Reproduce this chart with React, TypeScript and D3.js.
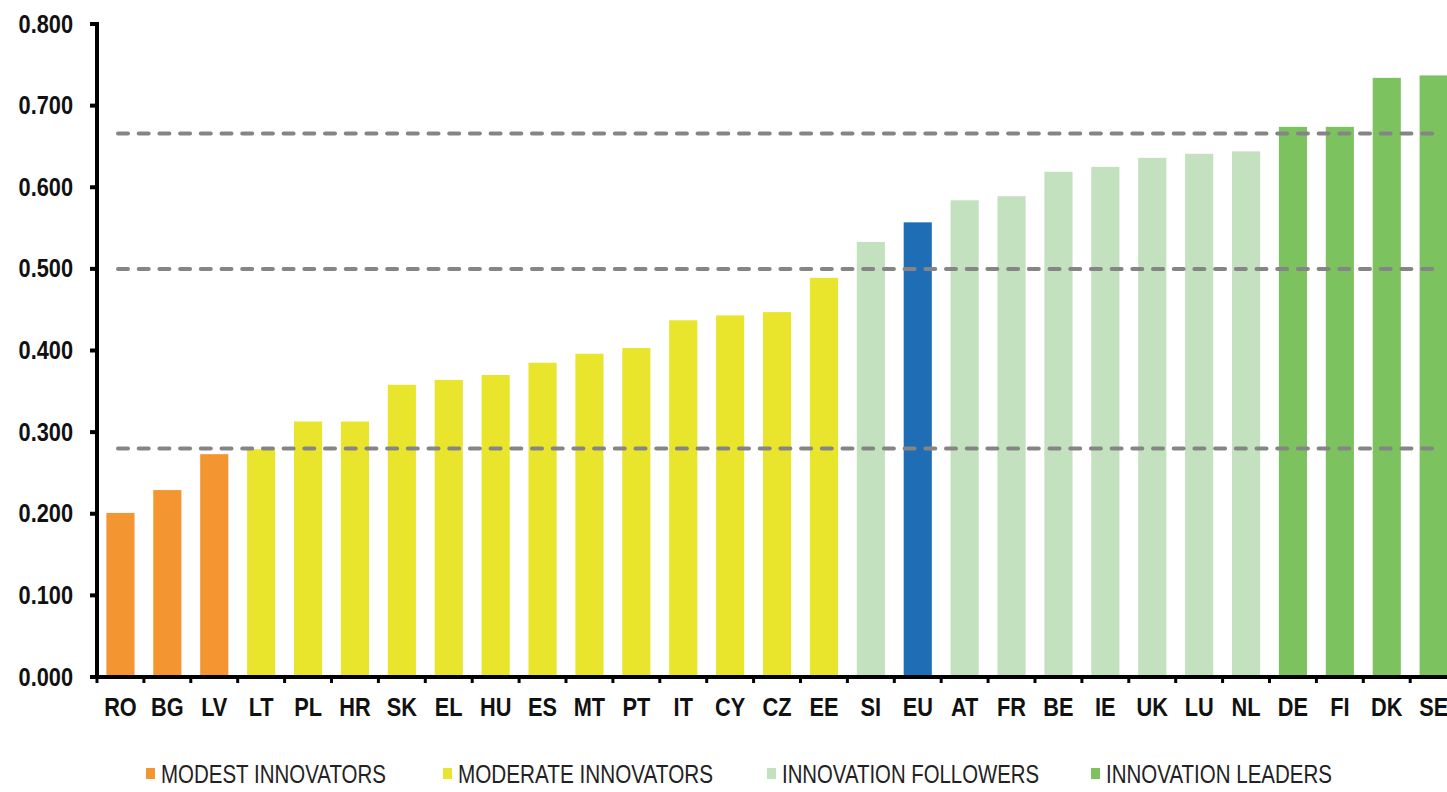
import * as d3 from "d3";

const countries = [
  "RO", "BG", "LV", "LT", "PL", "HR", "SK", "EL", "HU", "ES", "MT", "PT", "IT", "CY", "CZ",
  "EE", "SI", "EU", "AT", "FR", "BE", "IE", "UK", "LU", "NL", "DE", "FI", "DK", "SE",
];
const scores = [
  0.201, 0.229, 0.273, 0.279, 0.313, 0.313, 0.358, 0.364, 0.370, 0.385, 0.396, 0.403, 0.437,
  0.443, 0.447, 0.489, 0.533, 0.557, 0.584, 0.589, 0.619, 0.625, 0.636, 0.641, 0.644, 0.674,
  0.674, 0.734, 0.737,
];
// group of each country: 0 modest, 1 moderate, 2 followers, 3 leaders, 4 EU average
const groups = [
  0, 0, 0, 1, 1, 1, 1, 1, 1, 1, 1, 1, 1, 1, 1, 1, 2, 4, 2, 2, 2, 2, 2, 2, 2, 3, 3, 3, 3,
];
const groupNames = [
  "MODEST INNOVATORS",
  "MODERATE INNOVATORS",
  "INNOVATION FOLLOWERS",
  "INNOVATION LEADERS",
];
const groupColors = ["#F39530", "#E9E42C", "#C3E1BE", "#7CC35F", "#1F6DB5"];
const thresholds = [0.28, 0.5, 0.666];

// legend layout (square x, text width)
const legendX = [146, 443, 767, 1091];
const legendW = [225, 255, 257, 226];

const width = 1447;
const height = 792;
const axisX = 97;
const axisY = 677;
const step = 46.9;
const labelFont = "'Liberation Sans', Arial, sans-serif";
const squeeze = 0.87;

export default function App() {
  const x = d3
    .scaleBand<string>()
    .domain(countries)
    .range([axisX, axisX + step * countries.length])
    .paddingInner(0.4)
    .paddingOuter(0.2);
  const y = d3.scaleLinear().domain([0, 0.8]).range([axisY, 24]);
  const fmt = d3.format(".3f");
  const yTicks = y.ticks(8);

  return (
    <svg
      width={width}
      height={height}
      style={{ position: "absolute", left: 0, top: 0, background: "#fff" }}
    >
      {/* bars */}
      {countries.map((c, i) => (
        <rect
          key={c}
          x={x(c)}
          y={y(scores[i])}
          width={x.bandwidth()}
          height={axisY - y(scores[i])}
          fill={groupColors[groups[i]]}
        />
      ))}

      {/* threshold lines */}
      {thresholds.map((t) => (
        <line
          key={t}
          x1={118}
          x2={1436}
          y1={y(t)}
          y2={y(t)}
          stroke="#858585"
          strokeWidth={4}
          strokeDasharray="10 10.7"
          strokeLinecap="round"
        />
      ))}

      {/* y axis */}
      <line x1={axisX} x2={axisX} y1={y(0.8) - 2} y2={axisY + 2} stroke="#000" strokeWidth={4} />
      {yTicks.map((t) => (
        <g key={t}>
          <line x1={axisX - 7} x2={axisX} y1={y(t)} y2={y(t)} stroke="#000" strokeWidth={4} />
          <text
            transform={`translate(73, ${y(t)}) scale(${squeeze}, 1)`}
            textAnchor="end"
            dominantBaseline="central"
            fontFamily={labelFont}
            fontWeight="bold"
            fontSize={25}
            fill="#111"
          >
            {fmt(t)}
          </text>
        </g>
      ))}

      {/* x axis */}
      <line x1={axisX - 4} x2={width} y1={axisY} y2={axisY} stroke="#000" strokeWidth={4} />
      {countries.map((c, i) => (
        <line
          key={"t" + c}
          x1={axisX + i * x.step()}
          x2={axisX + i * x.step()}
          y1={axisY}
          y2={axisY + 6}
          stroke="#000"
          strokeWidth={3}
        />
      ))}
      {countries.map((c) => (
        <text
          key={"l" + c}
          transform={`translate(${(x(c) as number) + x.bandwidth() / 2}, 716) scale(${squeeze}, 1)`}
          textAnchor="middle"
          fontFamily={labelFont}
          fontWeight="bold"
          fontSize={25}
          fill="#111"
        >
          {c}
        </text>
      ))}

      {/* legend */}
      {groupNames.map((name, i) => (
        <g key={name} transform={`translate(${legendX[i]}, 768)`}>
          <rect x={0} y={0} width={9} height={11} fill={groupColors[i]} />
          <text
            x={15}
            y={15}
            fontFamily={labelFont}
            fontSize={25}
            fill="#222"
            textLength={legendW[i]}
            lengthAdjust="spacingAndGlyphs"
          >
            {name}
          </text>
        </g>
      ))}
    </svg>
  );
}
